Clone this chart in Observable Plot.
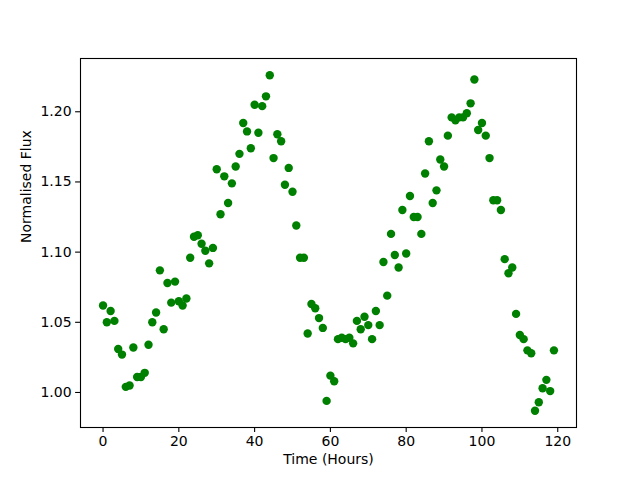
<!DOCTYPE html>
<html><head><meta charset="utf-8">
<script src="https://cdn.jsdelivr.net/npm/d3@7"></script>
<script src="https://cdn.jsdelivr.net/npm/@observablehq/plot@0.6"></script>
<style>
body{margin:0;background:#fff}
#chart svg{font-family:"DejaVu Sans",sans-serif;}
</style>
</head><body><div id="chart"></div>
<script>
const hours = [0,1,2,3,4,5,6,7,8,9,10,11,12,13,14,15,16,17,18,19,
  20,21,22,23,24,25,26,27,28,29,30,31,32,33,34,35,36,37,38,39,
  40,41,42,43,44,45,46,47,48,49,50,51,52,53,54,55,56,57,58,59,
  60,61,62,63,64,65,66,67,68,69,70,71,72,73,74,75,76,77,78,79,
  80,81,82,83,84,85,86,87,88,89,90,91,92,93,94,95,96,97,98,99,
  100,101,102,103,104,105,106,107,108,109,110,111,112,113,114,115,116,117,118,119];
const flux = [1.062,1.050,1.058,1.051,1.031,1.027,1.004,1.005,1.032,1.011,
  1.011,1.014,1.034,1.050,1.057,1.087,1.045,1.078,1.064,1.079,
  1.065,1.062,1.067,1.096,1.111,1.112,1.106,1.101,1.092,1.103,
  1.159,1.127,1.154,1.135,1.149,1.161,1.170,1.192,1.186,1.174,
  1.205,1.185,1.204,1.211,1.226,1.167,1.184,1.179,1.148,1.160,
  1.143,1.119,1.096,1.096,1.042,1.063,1.060,1.053,1.046,0.994,
  1.012,1.008,1.038,1.039,1.038,1.039,1.035,1.051,1.045,1.054,
  1.048,1.038,1.058,1.048,1.093,1.069,1.113,1.098,1.089,1.130,
  1.099,1.140,1.125,1.125,1.113,1.156,1.179,1.135,1.144,1.166,
  1.161,1.183,1.196,1.194,1.196,1.196,1.199,1.206,1.223,1.187,
  1.192,1.183,1.167,1.137,1.137,1.130,1.095,1.085,1.089,1.056,
  1.041,1.038,1.030,1.028,0.987,0.993,1.003,1.009,1.001,1.030];
const xTicks = [0,20,40,60,80,100,120];
const yTicks = [1.00,1.05,1.10,1.15,1.20];
const xLabel = "Time (Hours)";
const yLabel = "Normalised Flux";

const data = hours.map((h,i)=>({h, f: flux[i]}));
const [x0,x1] = d3.extent(hours); const px = (x1-x0)*0.05;
const [y0,y1] = d3.extent(flux); const py = (y1-y0)*0.05;

const chart = Plot.plot({
  width: 640, height: 480,
  marginLeft: 80, marginRight: 64, marginTop: 58, marginBottom: 53,
  style: {fontFamily: "DejaVu Sans, sans-serif", fontSize: "14px", color: "#000", background: "#fff"},
  x: {domain: [x0-px, x1+px]},
  y: {domain: [y0-py, y1+py]},
  marks: [
    Plot.dot(data, {x: "h", y: "f", r: 4.2, fill: "#008000", stroke: "none"}),
    Plot.frame({stroke: "#000", strokeWidth: 1.1}),
    Plot.axisX({ticks: xTicks, tickSize: 4.9, tickPadding: 4, label: null, fontSize: 14, strokeWidth: 1.1}),
    Plot.axisY({ticks: yTicks, tickSize: 4.9, tickPadding: 4, tickFormat: d3.format(".2f"), label: null, fontSize: 14, strokeWidth: 1.1}),
    Plot.text([xLabel], {frameAnchor: "bottom", dy: 36, text: d=>d, fontSize: 14, fill: "#000"}),
    Plot.text([yLabel], {frameAnchor: "left", dx: -54, rotate: -90, text: d=>d, fontSize: 14, fill: "#000"})
  ]
});
document.getElementById("chart").appendChild(chart);
</script>
</body></html>
